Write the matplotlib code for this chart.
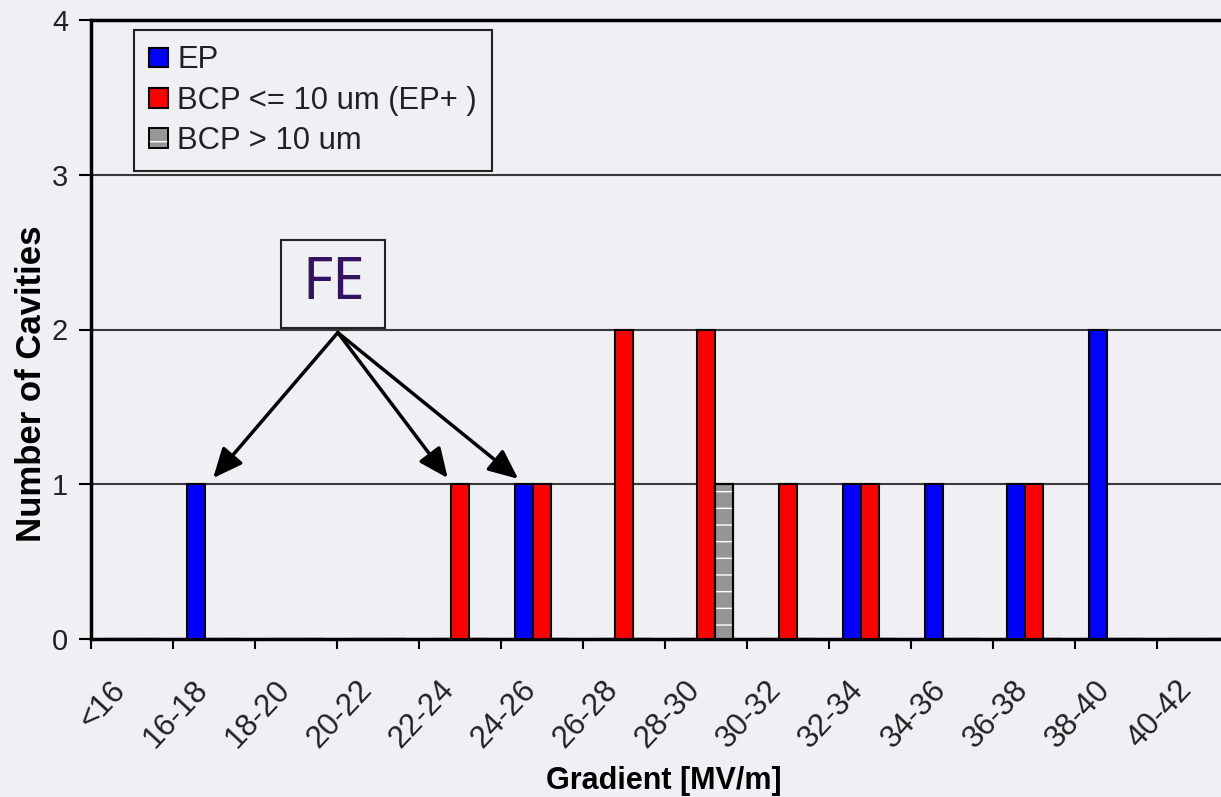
import matplotlib
matplotlib.use("Agg")
import matplotlib.pyplot as plt
import matplotlib.transforms as mtransforms
from matplotlib.patches import Patch, Rectangle
import numpy as np

# data
categories = ["<16", "16-18", "18-20", "20-22", "22-24", "24-26", "26-28",
              "28-30", "30-32", "32-34", "34-36", "36-38", "38-40", "40-42"]
ep = [0, 1, 0, 0, 0, 1, 0, 0, 0, 1, 1, 1, 2, 0]
bcp_small = [0, 0, 0, 0, 1, 1, 2, 2, 1, 1, 0, 1, 0, 0]
bcp_large = [0, 0, 0, 0, 0, 0, 0, 1, 0, 0, 0, 0, 0, 0]
series_labels = ["EP", "BCP <= 10 um (EP+ )", "BCP > 10 um"]
y_ticks = [0, 1, 2, 3, 4]

# FE annotation: box corners, text centre and arrow targets (data coords)
fe_box = (1.82, 2.01, 1.27, 0.57)
fe_text_pos = (2.455, 2.30)
fe_arrow_origin = (2.51, 1.98)
fe_arrow_targets = [(0.99, 1.04), (3.85, 1.04), (4.71, 1.035)]

BG = "#EFEFF4"
BLUE = "#0000FF"
RED = "#FF0000"
GRAY = "#969696"

plt.rcParams["font.family"] = ["Liberation Sans", "DejaVu Sans"]

fig = plt.figure(figsize=(12.21, 7.97), dpi=100, facecolor=BG)
ax = fig.add_axes([91 / 1221, (797 - 639) / 797, (1221 - 91) / 1221, (639 - 20) / 797])
ax.set_facecolor(BG)

x = np.arange(len(categories))
width = 0.225
offset = 0.22

b_ep = ax.bar(x - offset, ep, width, color=BLUE, edgecolor="black", linewidth=1.5, zorder=3)
b_small = ax.bar(x, bcp_small, width, color=RED, edgecolor="black", linewidth=1.5, zorder=3)
b_large = ax.bar(x + offset, bcp_large, width, color=GRAY, edgecolor="black", linewidth=1.5, zorder=3)
# white dashes inside the grey bar, then the outline again on top
ax.bar(x + offset, bcp_large, width, color="none", edgecolor="white", hatch="-", linewidth=0, zorder=4)
ax.bar(x + offset, bcp_large, width, color="none", edgecolor="black", linewidth=1.5, zorder=5)

# horizontal gridlines
ax.set_yticks(y_ticks)
ax.yaxis.grid(True, color="#3a3a3a", linewidth=1.5, zorder=1)
ax.set_axisbelow(True)
ax.tick_params(axis="y", direction="out", length=8.5, width=1.5, pad=8,
               labelsize=21, labelcolor="#222222")

# tick marks on category boundaries, labels at category centres
ax.set_xticks(np.arange(len(categories) + 1) - 0.5)
ax.set_xticklabels([])
ax.set_xticks(x, minor=True)
ax.set_xticklabels(categories, minor=True, rotation=47, ha="right", va="top",
                   rotation_mode="anchor")
ax.tick_params(axis="x", which="major", direction="out", length=7.5, width=1.5)
ax.tick_params(axis="x", which="minor", length=0, pad=26, labelsize=22.5, labelcolor="#222222")
shift = mtransforms.ScaledTranslation(-0.22, 0, fig.dpi_scale_trans)
for lab in ax.get_xticklabels(minor=True):
    lab.set_transform(lab.get_transform() + shift)

# limits after the ticks so they are not widened
ax.set_xlim(-0.5, (1221 - 91) / 82 - 0.5)
ax.set_ylim(0, 4)

for side in ["left", "bottom", "top"]:
    ax.spines[side].set_linewidth(2.5)
    ax.spines[side].set_color("black")
ax.spines["right"].set_visible(False)

ax.set_xlabel("Gradient [MV/m]", fontsize=22, fontweight="bold")
ax.xaxis.set_label_coords(0.507, -0.205)
ax.set_ylabel("Number of Cavities", fontsize=25, fontweight="bold")
ax.yaxis.set_label_coords(-0.038, 0.412)

# legend (grey entry as overlaid patches to keep the white dashes)
h_large = (Patch(facecolor=GRAY, edgecolor="black", linewidth=1.2),
           Patch(facecolor="none", edgecolor="white", hatch="-", linewidth=0),
           Patch(facecolor="none", edgecolor="black", linewidth=1.2))
leg = ax.legend([b_ep, b_small, h_large], series_labels,
                loc="upper left", bbox_to_anchor=(0.038, 0.984), borderaxespad=0,
                fontsize=22.3, frameon=True, fancybox=False, framealpha=1,
                facecolor=BG, edgecolor="#222222", handlelength=0.6, handleheight=0.6,
                handletextpad=0.3, labelspacing=0.33, borderpad=0.5)
leg.get_frame().set_linewidth(1.5)
for t in leg.get_texts():
    t.set_color("#222222")

# FE annotation
ax.add_patch(Rectangle(fe_box[:2], fe_box[2], fe_box[3], facecolor=BG,
                       edgecolor="#222222", linewidth=1.5, zorder=6))
ax.text(*fe_text_pos, "FE", fontsize=42, color="#33135F", family="Noto Sans",
        ha="center", va="center", zorder=7)
for tgt in fe_arrow_targets:
    ax.annotate("", xy=tgt, xytext=fe_arrow_origin, zorder=6,
                arrowprops=dict(arrowstyle="-|>,head_length=0.9,head_width=0.4",
                                mutation_scale=20, color="black", linewidth=2.5,
                                shrinkA=0, shrinkB=0))

fig.savefig("out.png", dpi=100, facecolor=BG)
